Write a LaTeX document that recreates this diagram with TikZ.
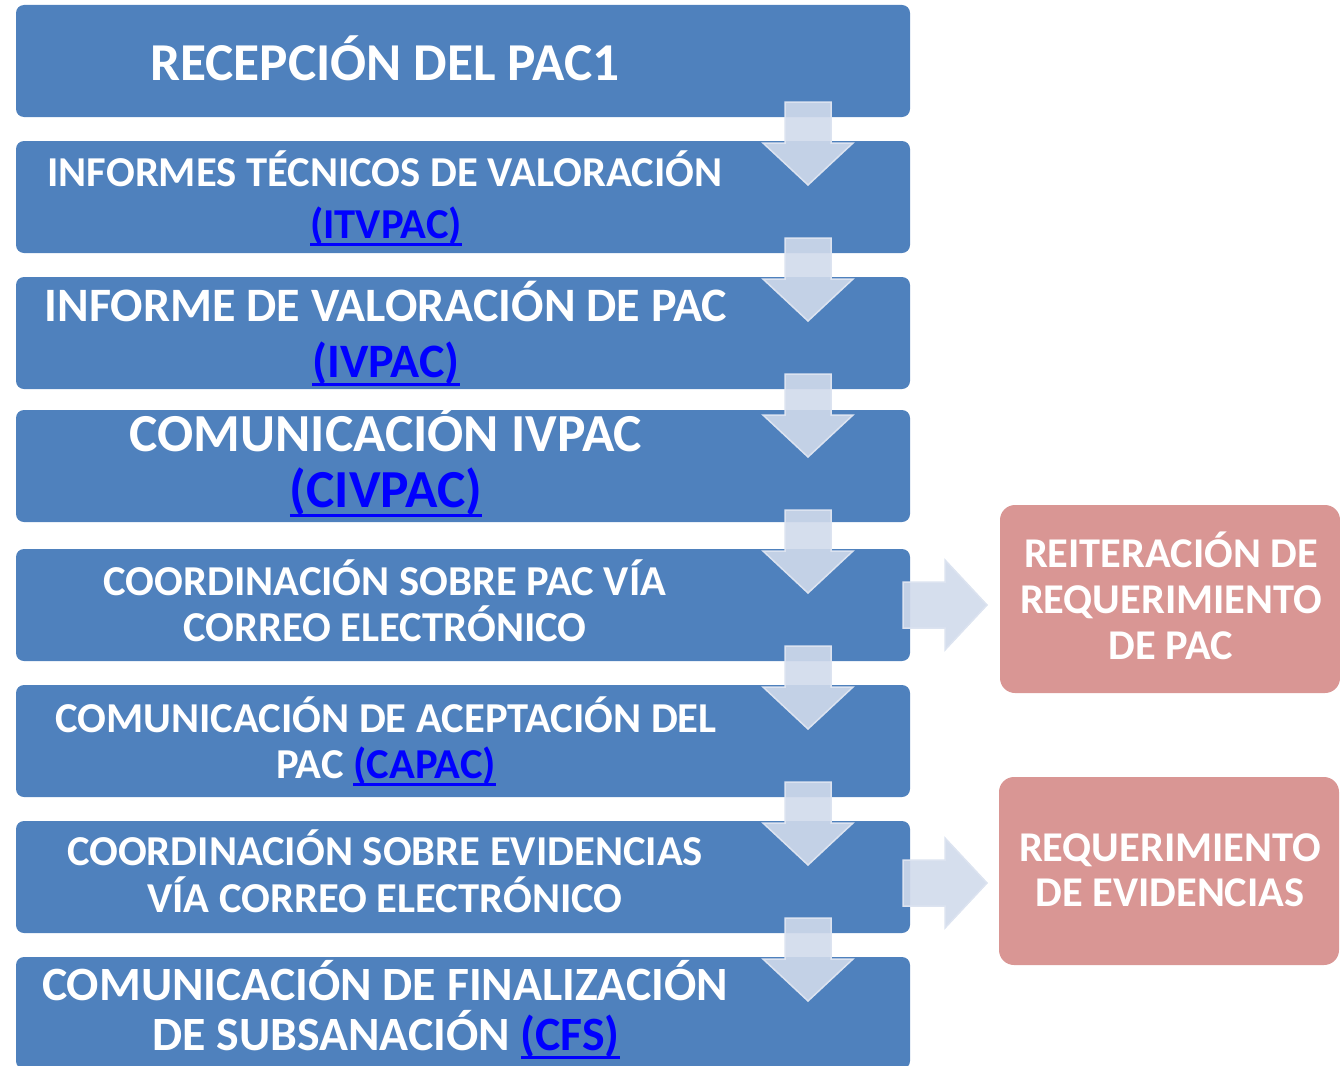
\documentclass[tikz,border=0pt]{standalone}
\usepackage{fontspec}
\setmainfont{Carlito}
\definecolor{boxblue}{HTML}{4F81BD}
\definecolor{boxpink}{HTML}{D99694}
\definecolor{arrowfill}{HTML}{D0DAEB}
\definecolor{arrowedge}{HTML}{DCE3F0}
\definecolor{linkblue}{HTML}{0000FF}
\newcommand\lnk[1]{{\color{linkblue}\setbox0=\hbox{#1}\rlap{\raisebox{\dimexpr-\dp0-1.5pt\relax}{\rule{\wd0}{2.5pt}}}\box0}}
\newcommand\fs[1]{\fontsize{#1}{#1}\selectfont}
\tikzset{
  bluebox/.style={draw=none, fill=boxblue, rounded corners=8pt, minimum width=894pt, minimum height=112pt, inner sep=0pt},
  pinkbox/.style={draw=none, fill=boxpink, rounded corners=15pt, minimum width=340pt, minimum height=188pt, inner sep=0pt},
  txt/.style={text=white, font=\bfseries, inner sep=0pt, anchor=base},
  blockarrow/.style={fill=arrowfill, fill opacity=0.9, draw=arrowedge, line width=1.5pt, line join=miter},
  darrow/.pic={\path[blockarrow] (-23,-83) -- (23,-83) -- (23,-42) -- (45,-42) -- (0,0) -- (-45,-42) -- (-23,-42) -- cycle;},
  rarrow/.pic={\path[blockarrow] (-84,-23) -- (-42,-23) -- (-42,-45) -- (0,0) -- (-42,45) -- (-42,23) -- (-84,23) -- cycle;}
}
\begin{document}
\begin{tikzpicture}[x=1pt,y=-1pt]
\useasboundingbox (0,0) rectangle (1340,1065);
\clip (0,0) rectangle (1340,1065);
% blue boxes
\node[bluebox] (b1) at (463,61) {};
\node[bluebox] (b2) at (463,197) {};
\node[bluebox] (b3) at (463,333) {};
\node[bluebox] (b4) at (463,466) {};
\node[bluebox] (b5) at (463,605) {};
\node[bluebox] (b6) at (463,741) {};
\node[bluebox] (b7) at (463,877) {};
\node[bluebox] (b8) at (463,1013) {};
% pink boxes
\node[pinkbox] (p1) at (1170,599) {};
\node[pinkbox] (p2) at (1169,871) {};
% texts
\node[txt] (t1) at (385,80) {\fs{53.3}RECEPCIÓN DEL PAC1};
\node[txt] (t2a) at (385,186) {\fs{42.6}INFORMES TÉCNICOS DE VALORACIÓN};
\node[txt] (t2b) at (386,238) {\fs{42.6}\lnk{(ITVPAC)}};
\node[txt] (t3a) at (386,321) {\fs{48}INFORME DE VALORACIÓN DE PAC};
\node[txt] (t3b) at (386,377) {\fs{48}\lnk{(IVPAC)}};
\node[txt] (t4a) at (386,451) {\fs{53.5}COMUNICACIÓN IVPAC};
\node[txt] (t4b) at (386,507) {\fs{53.5}\lnk{(CIVPAC)}};
\node[txt] (t5a) at (385,595) {\fs{42.6}COORDINACIÓN SOBRE PAC VÍA};
\node[txt] (t5b) at (385,641) {\fs{42.6}CORREO ELECTRÓNICO};
\node[txt] (t6a) at (386,732) {\fs{42.6}COMUNICACIÓN DE ACEPTACIÓN DEL};
\node[txt] (t6b) at (386,778) {\fs{42.6}PAC \lnk{(CAPAC)}};
\node[txt] (t7a) at (385,865) {\fs{42.6}COORDINACIÓN SOBRE EVIDENCIAS};
\node[txt] (t7b) at (385,912) {\fs{42.6}VÍA CORREO ELECTRÓNICO};
\node[txt] (t8a) at (385,1000) {\fs{47.8}COMUNICACIÓN DE FINALIZACIÓN};
\node[txt] (t8b) at (386,1050) {\fs{47.8}DE SUBSANACIÓN \lnk{(CFS)}};
\node[txt] (q1a) at (1171,567) {\fs{42.4}REITERACIÓN DE};
\node[txt] (q1b) at (1171,613) {\fs{42.4}REQUERIMIENTO};
\node[txt] (q1c) at (1171,659) {\fs{42.4}DE PAC};
\node[txt] (q2a) at (1170,861) {\fs{42.4}REQUERIMIENTO};
\node[txt] (q2b) at (1170,906) {\fs{42.4}DE EVIDENCIAS};
% down arrows between boxes
\coordinate (d1) at (808,185);
\coordinate (d2) at (808,321);
\coordinate (d3) at (808,457);
\coordinate (d4) at (808,593);
\coordinate (d5) at (808,729);
\coordinate (d6) at (808,865);
\coordinate (d7) at (808,1001);
\foreach \i in {1,...,7} {\pic at (d\i) {darrow};}
% right arrows
\coordinate (r1) at (987,605);
\coordinate (r2) at (987,883);
\pic at (r1) {rarrow};
\pic at (r2) {rarrow};
\end{tikzpicture}
\end{document}
